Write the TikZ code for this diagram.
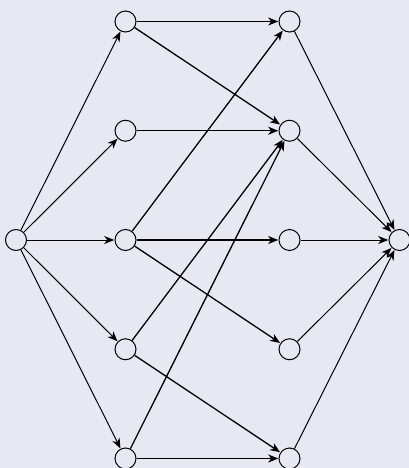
\documentclass[tikz,border=0pt]{standalone}
\usetikzlibrary{arrows.meta}
\definecolor{bg}{RGB}{232,232,243}
\begin{document}
\begin{tikzpicture}[x=1pt,y=-1pt,
  vtx/.style={circle,draw,line width=1pt,minimum size=21pt,inner sep=0pt,fill=bg},
  thin edge/.style={line width=1pt,-{Stealth[length=10pt,width=8pt,inset=3pt]},shorten >=0.3pt},
  thick edge/.style={line width=1.3pt,-{Stealth[length=10pt,width=8pt,inset=3pt]},shorten >=0.3pt}]
\fill[bg] (0,0) rectangle (409,468);
\useasboundingbox (0,0) rectangle (409,468);
\node[vtx] (s) at (16,240) {};
\foreach \i/\y in {1/21.5,2/130.75,3/240,4/349.25,5/458.5}{
  \node[vtx] (a\i) at (125.5,\y) {};
  \node[vtx] (b\i) at (289.5,\y) {};
}
\node[vtx] (t) at (399.5,240) {};
\foreach \i in {1,...,5}{
  \draw[thin edge] (s) -- (a\i);
  \draw[thin edge] (b\i) -- (t);
}
\foreach \u/\v in {1/1,1/2,2/2,3/1,3/3,3/4,4/2,4/5,5/2,5/5}{
  \draw[thick edge] (a\u) -- (b\v);
}
\end{tikzpicture}
\end{document}
